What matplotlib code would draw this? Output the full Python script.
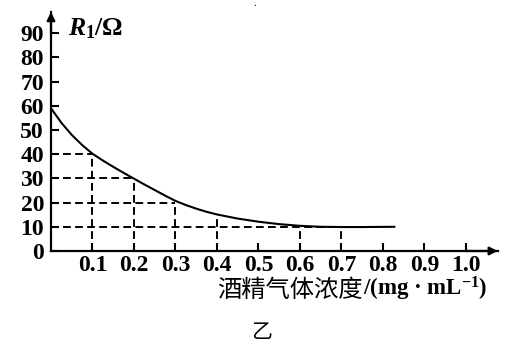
import matplotlib
matplotlib.use('Agg')
import matplotlib.pyplot as plt

# data
conc = [0, 0.025, 0.05, 0.075, 0.1, 0.125, 0.15, 0.175, 0.2, 0.225, 0.25,
        0.275, 0.3, 0.325, 0.35, 0.375, 0.4, 0.45, 0.5, 0.55, 0.6, 0.65,
        0.7, 0.75, 0.83]
r1 = [59, 53, 48, 43.8, 40.2, 37.4, 34.8, 32.3, 29.9, 27.5, 25.2,
      22.9, 20.7, 19.0, 17.5, 16.2, 15.1, 13.4, 12.1, 11.1, 10.4, 10.0,
      9.9, 9.9, 10]

v_guides_x = [0.1, 0.2, 0.3, 0.4, 0.6, 0.7]
v_guides_y = [40, 30, 20, 15, 10, 10]
h_guides_y = [40, 30, 20, 10]
h_guides_x = [0.1, 0.2, 0.3, 0.7]

x_ticks = [0.1, 0.2, 0.3, 0.4, 0.5, 0.6, 0.7, 0.8, 0.9, 1.0]
x_labels = ['0.1', '0.2', '0.3', '0.4', '0.5', '0.6', '0.7', '0.8', '0.9', '1.0']
y_ticks = [0, 10, 20, 30, 40, 50, 60, 70, 80, 90]

plt.rcParams['font.family'] = ['Liberation Serif', 'Noto Sans CJK SC']
plt.rcParams['mathtext.fontset'] = 'custom'
plt.rcParams['mathtext.it'] = 'Liberation Serif:italic:bold'
plt.rcParams['mathtext.bf'] = 'Liberation Serif:bold'
plt.rcParams['mathtext.rm'] = 'Liberation Serif:bold'

fig = plt.figure(figsize=(5.09, 3.5), dpi=100)
ax = fig.add_axes([0.1002, 0.2829, 0.978 - 0.1002, 0.9657 - 0.2829])
ax.set_xlim(0, 1.077)
ax.set_ylim(0, 98.8)

# curve
ax.plot(conc, r1, color='black', lw=1.5, solid_capstyle='butt',
        solid_joinstyle='round', zorder=3)

# dashed guides
for x, y in zip(v_guides_x, v_guides_y):
    ax.plot([x, x], [0, y], color='black', lw=1.4, dashes=(4, 2.2))
for y, x in zip(h_guides_y, h_guides_x):
    ax.plot([0, x], [y, y], color='black', lw=1.4, dashes=(4, 2.2))

# axes
for s in ['top', 'right']:
    ax.spines[s].set_visible(False)
for s in ['left', 'bottom']:
    ax.spines[s].set_linewidth(1.6)
ax.annotate('', xy=(1.077, 0), xytext=(1.0, 0), xycoords='data',
            arrowprops=dict(arrowstyle='-|>', color='black', lw=1.6,
                            mutation_scale=12, shrinkA=0, shrinkB=0),
            annotation_clip=False)
ax.annotate('', xy=(0, 98.8), xytext=(0, 90), xycoords='data',
            arrowprops=dict(arrowstyle='-|>', color='black', lw=1.6,
                            mutation_scale=12, shrinkA=0, shrinkB=0),
            annotation_clip=False)

ax.set_xticks(x_ticks)
ax.set_xticklabels(x_labels)
ax.set_yticks(y_ticks)
ax.tick_params(direction='in', length=5.5, width=1.5, labelsize=17, pad=3)
ax.tick_params(axis='y', pad=5)
for lab in ax.get_xticklabels() + ax.get_yticklabels():
    lab.set_fontweight('bold')

ax.text(0.04, 92, r'$R_{\mathbf{1}}$/Ω', fontsize=18.5, fontweight='bold',
        ha='left', va='center')

# x-axis title: latin part with superscript, Chinese part placed to its left
unit = fig.text(487 / 509, 1 - 289 / 350, r'/(mg · mL$^{\mathbf{-1}}$)',
                fontsize=16.5, fontweight='bold', ha='right', va='center')
ax.annotate('酒精气体浓度', xy=(0, 0.45), xycoords=unit,
            fontsize=17.5, family=['Noto Sans CJK SC'], fontweight='medium',
            ha='right', va='center')
fig.text(262 / 509, 1 - 332 / 350, '乙', fontsize=15,
         family=['Noto Sans CJK SC'], ha='center', va='center')
fig.text(255 / 509, 1 - 4 / 350, '.', fontsize=8, ha='center', va='center')

fig.savefig('out.png', dpi=100)
